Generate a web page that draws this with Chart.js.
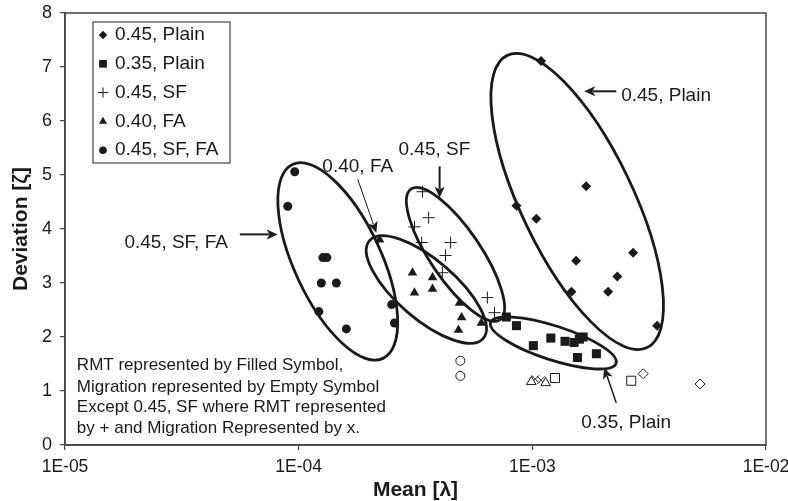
<!DOCTYPE html>
<html>
<head>
<meta charset="utf-8">
<script src="https://cdn.jsdelivr.net/npm/chart.js@4.4.1/dist/chart.umd.min.js"></script>
<style>
  body { margin: 0; background: #fff; }
</style>
</head>
<body>
<canvas id="chart" width="788" height="501"></canvas>
<script>
// tick values / labels
const xTickValues = [1e-5, 1e-4, 1e-3, 1e-2];
const xTickLabels = ['1E-05', '1E-04', '1E-03', '1E-02'];
const yTickValues = [0, 1, 2, 3, 4, 5, 6, 7, 8];

const seriesNames = ['0.45, Plain', '0.35, Plain', '0.45, SF', '0.40, FA', '0.45, SF, FA'];

// RMT (filled symbols)
const plainX = [1.09e-3, 1.70e-3, 8.55e-4, 1.04e-3, 1.54e-3, 2.70e-3, 2.31e-3, 1.47e-3, 2.11e-3, 3.42e-3];
const plainY = [7.11, 4.79, 4.43, 4.19, 3.41, 3.56, 3.12, 2.84, 2.84, 2.21];

const plain35X = [7.74e-4, 8.55e-4, 1.01e-3, 1.20e-3, 1.38e-3, 1.51e-3, 1.59e-3, 1.65e-3, 1.56e-3, 1.88e-3];
const plain35Y = [2.37, 2.21, 1.84, 1.98, 1.92, 1.90, 1.96, 2.00, 1.62, 1.69];

const sfX = [3.39e-4, 3.60e-4, 3.13e-4, 3.36e-4, 4.47e-4, 4.25e-4, 4.12e-4, 6.42e-4, 6.89e-4];
const sfY = [4.69, 4.21, 4.04, 3.75, 3.75, 3.51, 3.19, 2.73, 2.45];

const faX = [2.22e-4, 3.07e-4, 3.74e-4, 3.74e-4, 3.13e-4, 4.88e-4, 4.98e-4, 4.83e-4, 6.05e-4];
const faY = [3.80, 3.19, 3.10, 2.89, 2.82, 2.63, 2.36, 2.13, 2.26];

const sfFaX = [9.62e-5, 8.98e-5, 1.27e-4, 1.32e-4, 1.25e-4, 1.45e-4, 1.22e-4, 1.60e-4, 2.50e-4, 2.57e-4];
const sfFaY = [5.06, 4.42, 3.47, 3.47, 3.00, 3.00, 2.47, 2.15, 2.60, 2.26];

// Migration (empty symbols, x for 0.45 SF)
const migSfFaX = [4.92e-4, 4.92e-4];
const migSfFaY = [1.56, 1.28];
const migFaX = [9.9e-4, 1.14e-3];
const migFaY = [1.17, 1.15];
const migSfX = [1.03e-3, 1.09e-3];
const migSfY = [1.22, 1.20];
const mig35X = [1.25e-3, 2.65e-3];
const mig35Y = [1.24, 1.19];
const migPlainX = [2.98e-3, 5.22e-3];
const migPlainY = [1.32, 1.13];

// annotations: ellipse centres in data units, radii in px
const ellipses = [
  { cx: 1.556e-3, cy: 4.51, rx: 162, ry: 56, angle: 64.4 },
  { cx: 1.23e-3, cy: 1.89, rx: 66, ry: 17, angle: 18 },
  { cx: 4.69e-4, cy: 3.53, rx: 79, ry: 25.4, angle: 55.9 },
  { cx: 3.52e-4, cy: 2.88, rx: 75, ry: 29.5, angle: 40.7 },
  { cx: 1.47e-4, cy: 3.40, rx: 107, ry: 43.4, angle: 65 }
];
const arrows = [
  { from: [2.286e-3, 6.55], to: [1.667e-3, 6.55], w: 2 },
  { from: [2.286e-3, 0.78], to: [2.03e-3, 1.43], w: 1.5 },
  { from: [4.01e-4, 5.16], to: [4.01e-4, 4.58], w: 2 },
  { from: [1.79e-4, 4.92], to: [2.15e-4, 3.93], w: 1 },
  { from: [5.60e-5, 3.90], to: [8.13e-5, 3.90], w: 2 }
];
const callouts = [
  { text: '0.45, Plain', x: 2.40e-3, y: 6.46, align: 'left' },
  { text: '0.35, Plain', x: 2.52e-3, y: 0.41, align: 'center' },
  { text: '0.45, SF', x: 3.81e-4, y: 5.47, align: 'center' },
  { text: '0.40, FA', x: 1.79e-4, y: 5.16, align: 'center' },
  { text: '0.45, SF, FA', x: 2.99e-5, y: 3.75, align: 'center' }
];
const noteLines = [
  'RMT represented by Filled Symbol,',
  'Migration represented by Empty Symbol',
  'Except 0.45, SF where RMT represented',
  'by + and Migration Represented by x.'
];
const noteX = 1.124e-5;
const noteY = [1.48, 1.076, 0.705, 0.315];

const FONT = "'Liberation Sans', Arial, Helvetica, sans-serif";
const INK = '#1a1a1a';

const pts = (xs, ys) => xs.map((x, i) => ({ x: x, y: ys[i] }));

const filled = (label, data, style, radius) => ({
  label, data, pointStyle: style, pointRadius: radius,
  backgroundColor: INK, borderColor: INK, borderWidth: style === 'cross' ? 1 : 0,
  showLine: false
});
const empty = (data, style, radius) => ({
  label: 'migration', data, pointStyle: style, pointRadius: radius,
  backgroundColor: '#fff', borderColor: INK, borderWidth: 1,
  showLine: false
});

const datasets = [
  filled(seriesNames[0], pts(plainX, plainY), 'rectRot', 5),
  filled(seriesNames[1], pts(plain35X, plain35Y), 'rect', 6.4),
  filled(seriesNames[2], pts(sfX, sfY), 'cross', 6),
  filled(seriesNames[3], pts(faX, faY), 'triangle', 5.5),
  filled(seriesNames[4], pts(sfFaX, sfFaY), 'circle', 4.5),
  empty(pts(migSfFaX, migSfFaY), 'circle', 4.5),
  empty(pts(migFaX, migFaY), 'triangle', 5.5),
  empty(pts(migSfX, migSfY), 'crossRot', 5.5),
  empty(pts(mig35X, mig35Y), 'rect', 6.4),
  empty(pts(migPlainX, migPlainY), 'rectRot', 5)
];

const overlay = {
  id: 'overlay',
  afterDatasetsDraw(chart) {
    const { ctx, chartArea: a, scales: { x, y } } = chart;
    ctx.save();
    // plot frame
    ctx.strokeStyle = '#444';
    ctx.lineWidth = 1.5;
    ctx.strokeRect(a.left, a.top, a.right - a.left, a.bottom - a.top);

    // ellipses
    ctx.strokeStyle = INK;
    ctx.lineWidth = 2.8;
    ellipses.forEach(e => {
      ctx.beginPath();
      ctx.ellipse(x.getPixelForValue(e.cx), y.getPixelForValue(e.cy), e.rx, e.ry,
        e.angle * Math.PI / 180, 0, Math.PI * 2);
      ctx.stroke();
    });

    // arrows
    ctx.fillStyle = INK;
    arrows.forEach(ar => {
      const x1 = x.getPixelForValue(ar.from[0]), y1 = y.getPixelForValue(ar.from[1]);
      const x2 = x.getPixelForValue(ar.to[0]), y2 = y.getPixelForValue(ar.to[1]);
      const ang = Math.atan2(y2 - y1, x2 - x1);
      const hl = 11, hw = 5;
      ctx.lineWidth = ar.w;
      ctx.beginPath();
      ctx.moveTo(x1, y1);
      ctx.lineTo(x2 - Math.cos(ang) * hl * 0.8, y2 - Math.sin(ang) * hl * 0.8);
      ctx.stroke();
      ctx.beginPath();
      ctx.moveTo(x2, y2);
      ctx.lineTo(x2 - Math.cos(ang) * hl - Math.sin(ang) * hw, y2 - Math.sin(ang) * hl + Math.cos(ang) * hw);
      ctx.lineTo(x2 - Math.cos(ang) * hl * 0.75, y2 - Math.sin(ang) * hl * 0.75);
      ctx.lineTo(x2 - Math.cos(ang) * hl + Math.sin(ang) * hw, y2 - Math.sin(ang) * hl - Math.cos(ang) * hw);
      ctx.closePath();
      ctx.fill();
    });

    // callout labels
    ctx.font = '19px ' + FONT;
    ctx.textBaseline = 'middle';
    callouts.forEach(c => {
      ctx.textAlign = c.align;
      ctx.fillText(c.text, x.getPixelForValue(c.x), y.getPixelForValue(c.y));
    });

    // note
    ctx.font = '17px ' + FONT;
    ctx.textAlign = 'left';
    noteLines.forEach((t, i) => {
      ctx.fillText(t, x.getPixelForValue(noteX), y.getPixelForValue(noteY[i]));
    });
    ctx.restore();
  },
  afterDraw(chart) {
    const { ctx, chartArea: a } = chart;
    ctx.save();
    const bx = a.left + 28, by = a.top + 9, bw = 137, bh = 141;
    ctx.fillStyle = '#fff';
    ctx.fillRect(bx, by, bw, bh);
    ctx.strokeStyle = '#444';
    ctx.lineWidth = 1.2;
    ctx.strokeRect(bx, by, bw, bh);
    ctx.font = '19px ' + FONT;
    ctx.textAlign = 'left';
    ctx.textBaseline = 'middle';
    seriesNames.forEach((name, i) => {
      const ds = chart.data.datasets[i];
      const iy = by + 13 + i * 28.8;
      ctx.fillStyle = INK;
      ctx.strokeStyle = INK;
      ctx.lineWidth = 1;
      Chart.helpers.drawPoint(ctx, {
        pointStyle: ds.pointStyle, radius: ds.pointRadius * 0.85,
        borderWidth: ds.borderWidth, rotation: 0
      }, bx + 10, iy);
      ctx.fillStyle = INK;
      ctx.fillText(name, bx + 22, iy);
    });
    ctx.restore();
  }
};

new Chart(document.getElementById('chart'), {
  type: 'scatter',
  data: { datasets },
  options: {
    responsive: false,
    animation: false,
    devicePixelRatio: 1,
    layout: { padding: { top: 13, right: 22, left: 0, bottom: 0 } },
    plugins: { legend: { display: false }, tooltip: { enabled: false } },
    scales: {
      x: {
        type: 'logarithmic',
        min: 1e-5,
        max: 1e-2,
        afterBuildTicks: s => { s.ticks = xTickValues.map(v => ({ value: v })); },
        afterFit: s => { s.height = 56; s.paddingLeft = 0; s.paddingRight = 0; },
        ticks: {
          autoSkip: false,
          maxRotation: 0,
          padding: 7,
          color: INK,
          font: { family: FONT, size: 17.5 },
          callback: v => xTickLabels[xTickValues.indexOf(v)]
        },
        grid: { drawOnChartArea: false, tickLength: 5, color: '#444', lineWidth: 1.2 },
        border: { color: '#444', width: 1.5 },
        title: {
          display: true, text: 'Mean [λ]', color: INK,
          font: { family: FONT, size: 21, weight: 'bold', lineHeight: 1 },
          padding: { top: 0, bottom: 0 }
        }
      },
      y: {
        min: 0,
        max: 8,
        afterBuildTicks: s => { s.ticks = yTickValues.map(v => ({ value: v })); },
        afterFit: s => { s.width = 65; s.paddingTop = 0; s.paddingBottom = 0; },
        ticks: { padding: 8, color: INK, font: { family: FONT, size: 18 } },
        grid: { drawOnChartArea: false, tickLength: 5, color: '#444', lineWidth: 1.2 },
        border: { color: '#444', width: 1.5 },
        title: {
          display: true, text: 'Deviation [ζ]', color: INK,
          font: { family: FONT, size: 21, weight: 'bold', lineHeight: 1 },
          padding: { top: 11, bottom: 0 }
        }
      }
    }
  },
  plugins: [overlay]
});
</script>
</body>
</html>
